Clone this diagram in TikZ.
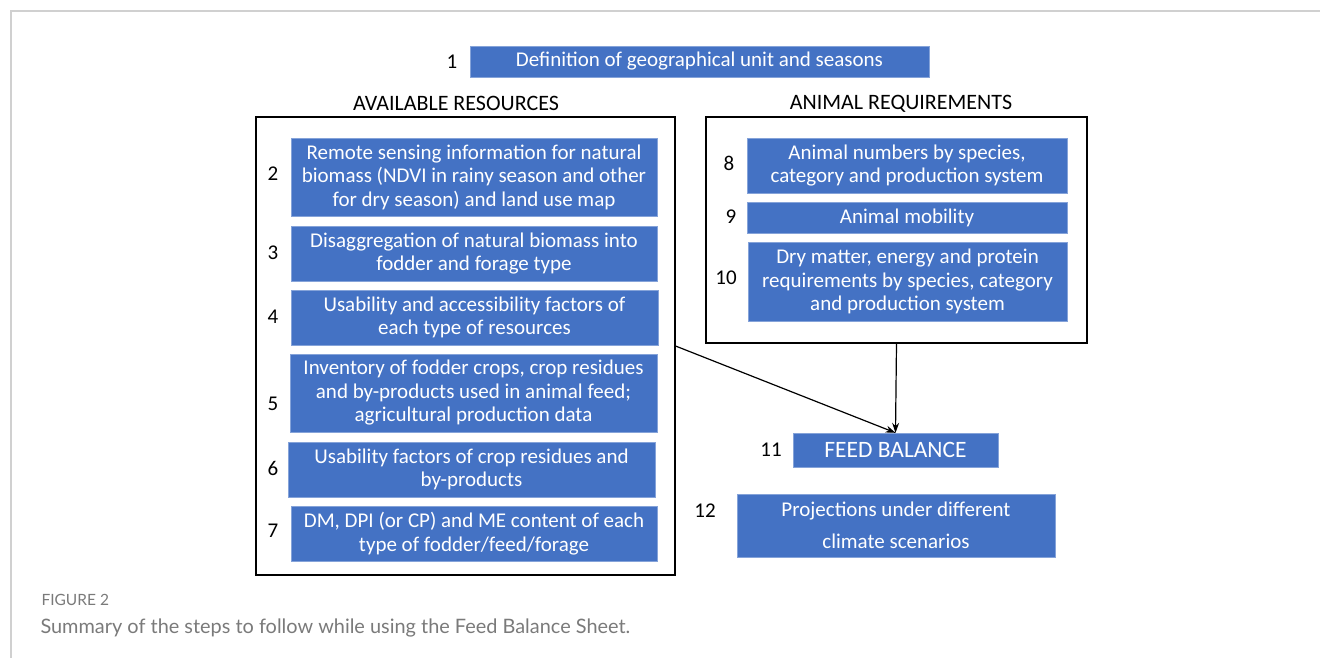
\documentclass[tikz,border=0pt]{standalone}
\usepackage{fontspec}
\setmainfont{Carlito}
\newfontfamily\captionfont{Lato}
\usetikzlibrary{arrows.meta}
\definecolor{stepblue}{HTML}{4472C4}
\definecolor{pagegray}{HTML}{D0D0D0}
\definecolor{captiongray}{HTML}{7A7A7A}
\begin{document}
\begin{tikzpicture}[x=1pt,y=-1pt,
		stepbox/.style={fill=stepblue, draw=stepblue!65!white, line width=0.4pt, text=white, align=center, inner sep=0pt, font=\fontsize{21}{23.5}\selectfont},
		stepnum/.style={font=\fontsize{21}{23.5}\selectfont},
		header/.style={font=\fontsize{22}{25}\selectfont},
		frame/.style={draw=black, line width=1.1pt, inner sep=0pt},
		flow/.style={-{Stealth[length=10pt,width=7pt]}, line width=1.2pt}]
		\useasboundingbox (0,0) rectangle (1320,658);
		\draw[pagegray, line width=1.2pt] (11,658) -- (11,11) -- (1320,11);
		
		% step 1
		\node[stepbox, minimum width=459pt, minimum height=31pt] (s1) at (699.5,61.5) {Definition of geographical unit and seasons};
		\node[stepnum] (n1) at (452,62) {1};
		
		% available resources
		\node[header] (restitle) at (456,103) {AVAILABLE RESOURCES};
		\node[frame, minimum width=419pt, minimum height=458pt] (resframe) at (465.5,346) {};
		\node[stepbox, minimum width=366pt, minimum height=78pt] (s2) at (474,177) {Remote sensing information for natural\\biomass (NDVI in rainy season and other\\for dry season) and land use map};
		\node[stepbox, minimum width=366pt, minimum height=55pt] (s3) at (474,253.5) {Disaggregation of natural biomass into\\fodder and forage type};
		\node[stepbox, minimum width=367pt, minimum height=55pt] (s4) at (474.5,317.5) {Usability and accessibility factors of\\each type of resources};
		\node[stepbox, minimum width=367pt, minimum height=78pt] (s5) at (473.5,393) {Inventory of fodder crops, crop residues\\and by-products used in animal feed;\\agricultural production data};
		\node[stepbox, minimum width=367pt, minimum height=55pt] (s6) at (471.5,469.5) {Usability factors of crop residues and\\by-products};
		\node[stepbox, minimum width=366pt, minimum height=55pt] (s7) at (474,533.5) {DM, DPI (or CP) and ME content of each\\type of fodder/feed/forage};
		\node[stepnum] (n2) at (273,174) {2};
		\node[stepnum] (n3) at (273,253) {3};
		\node[stepnum] (n4) at (273,317) {4};
		\node[stepnum] (n5) at (273,404) {5};
		\node[stepnum] (n6) at (273,468) {6};
		\node[stepnum] (n7) at (273,531) {7};
		
		% animal requirements
		\node[header] (reqtitle) at (901,104) {ANIMAL REQUIREMENTS};
		\node[frame, minimum width=381pt, minimum height=226pt] (reqframe) at (896.5,230) {};
		\node[stepbox, minimum width=320pt, minimum height=55pt] (s8) at (907,165.5) {Animal numbers by species,\\category and production system};
		\node[stepbox, minimum width=320pt, minimum height=31pt] (s9) at (907,217.5) {Animal mobility};
		\node[stepbox, minimum width=319pt, minimum height=79pt] (s10) at (907.5,281.5) {Dry matter, energy and protein\\requirements by species, category\\and production system};
		\node[stepnum] (n8) at (729,163) {8};
		\node[stepnum] (n9) at (731,217) {9};
		\node[stepnum] (n10) at (726,278) {10};
		
		% balance and projections
		\node[stepbox, minimum width=205pt, minimum height=34pt, font=\fontsize{23.5}{26}\selectfont] (s11) at (895.5,450) {FEED BALANCE};
		\node[stepbox, minimum width=318pt, minimum height=63pt, font=\fontsize{21}{32}\selectfont] (s12) at (896,525.5) {Projections under different\\climate scenarios};
		\node[stepnum] (n11) at (771,450) {11};
		\node[stepnum] (n12) at (705,511) {12};
		
		\draw[flow] (resframe.east) -- (s11.north);
		\draw[flow] (reqframe.south) -- (s11.north);
		
		% caption
		\node[anchor=west, text=captiongray, font=\captionfont\fontsize{15.5}{18}\selectfont] (figlabel) at (38,600) {FIGURE 2};
		\node[anchor=west, text=captiongray, font=\captionfont\fontsize{19.9}{23}\selectfont] (figcaption) at (37,628) {Summary of the steps to follow while using the Feed Balance Sheet.};
	\end{tikzpicture}
\end{document}
